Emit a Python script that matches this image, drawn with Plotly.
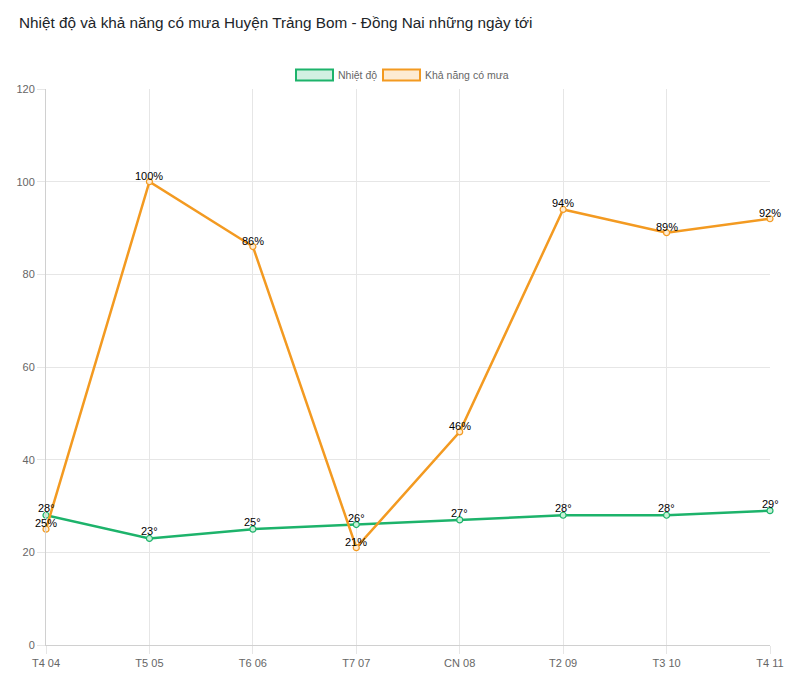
import plotly.graph_objects as go

categories = ["T4 04", "T5 05", "T6 06", "T7 07", "CN 08", "T2 09", "T3 10", "T4 11"]
temperature = [28, 23, 25, 26, 27, 28, 28, 29]
rain_chance = [25, 100, 86, 21, 46, 94, 89, 92]
y_ticks = [0, 20, 40, 60, 80, 100, 120]

GREEN = "#1db36b"
ORANGE = "#f39a21"
FONT = "Liberation Sans, Arial, sans-serif"

fig = go.Figure()
fig.add_trace(go.Scatter(
    x=categories, y=temperature, mode="lines+markers", name="Nhiệt độ",
    line=dict(color=GREEN, width=2.5),
    marker=dict(size=6, color="rgba(200,240,215,1)", line=dict(color=GREEN, width=1.2)),
    cliponaxis=False,
))
fig.add_trace(go.Scatter(
    x=categories, y=rain_chance, mode="lines+markers", name="Khả năng có mưa",
    line=dict(color=ORANGE, width=2.5),
    marker=dict(size=6, color="rgba(253,235,210,1)", line=dict(color=ORANGE, width=1.2)),
    cliponaxis=False,
))

annotations = []
for c, t in zip(categories, temperature):
    annotations.append(dict(x=c, y=t, xref="x", yref="y", text=f"{t}°", showarrow=False,
                            yanchor="middle", yshift=7, font=dict(family=FONT, size=11, color="#000")))
for c, r in zip(categories, rain_chance):
    annotations.append(dict(x=c, y=r, xref="x", yref="y", text=f"{r}%", showarrow=False,
                            yanchor="middle", yshift=6, font=dict(family=FONT, size=11, color="#000")))

# Title
annotations.append(dict(x=17, y=22, xref="paper", yref="paper", text="Nhiệt độ và khả năng có mưa Huyện Trảng Bom - Đồng Nai những ngày tới",
                        showarrow=False, xanchor="left", yanchor="middle",
                        font=dict(family=FONT, size=15.3, color="#212529")))

fig.update_layout(
    width=800, height=686,
    margin=dict(l=46, r=30, t=89, b=41),
    paper_bgcolor="white", plot_bgcolor="white",
    showlegend=False,
    font=dict(family=FONT, size=11, color="#666"),
    xaxis=dict(
        type="category", range=[0, 7], showgrid=True, gridcolor="#e6e6e6", gridwidth=1,
        ticks="outside", ticklen=8, tickcolor="#e6e6e6", tickwidth=1,
        showline=True, linecolor="#d0d0d0", linewidth=1,
        tickfont=dict(family=FONT, size=11, color="#666"), zeroline=False,
    ),
    yaxis=dict(
        range=[0, 120], tickvals=y_ticks, showgrid=True, gridcolor="#e6e6e6", gridwidth=1,
        ticks="outside", ticklen=8, tickcolor="#e6e6e6", tickwidth=1,
        showline=True, linecolor="#d0d0d0", linewidth=1, zeroline=False,
        tickfont=dict(family=FONT, size=11, color="#666"),
    ),
)

# Convert title/legend positions given in pixels to paper coords
W, H = 800, 686
L, R, T, B = 46, 30, 89, 41
pw, ph = W - L - R, H - T - B

def px_x(x):
    return (x - L) / pw

def px_y(y):
    return (H - B - y) / ph

for a in annotations:
    if a["xref"] == "paper":
        a["x"] = px_x(a["x"])
        a["y"] = px_y(a["y"])

# Custom legend (Chart.js style boxes)
legend_items = [("Nhiệt độ", GREEN, "rgba(30,180,110,0.2)", 296),
                ("Khả năng có mưa", ORANGE, "rgba(243,154,33,0.2)", 383)]
shapes = []
for label, col, fill, x0 in legend_items:
    shapes.append(dict(type="rect", xref="paper", yref="paper",
                       x0=px_x(x0), x1=px_x(x0 + 37), y0=px_y(80.5), y1=px_y(69.5),
                       line=dict(color=col, width=2), fillcolor=fill))
    annotations.append(dict(x=px_x(x0 + 40), y=px_y(75), xref="paper", yref="paper", text=label,
                            showarrow=False, xanchor="left", yanchor="middle",
                            font=dict(family=FONT, size=10.5, color="#666")))

fig.update_layout(annotations=annotations, shapes=shapes)
fig.write_html("out.html")
